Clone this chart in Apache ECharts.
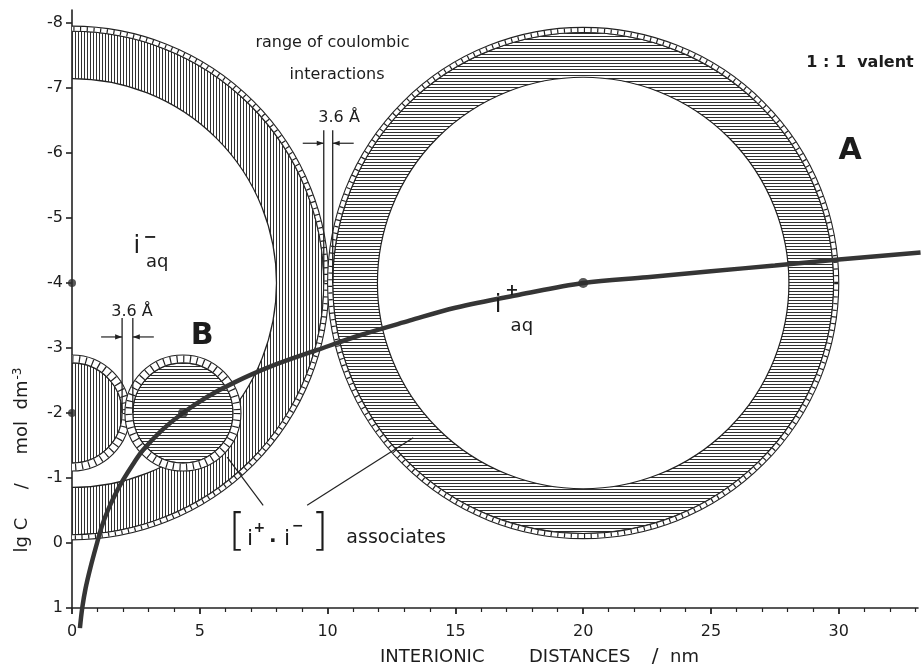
<!DOCTYPE html>
<html>
<head>
<meta charset="utf-8">
<title>Interionic distances vs concentration</title>
<script src="https://cdn.jsdelivr.net/npm/echarts/dist/echarts.min.js"></script>
<style>
  html, body { margin: 0; padding: 0; background: #fff; }
  #chart { width: 921px; height: 667px; }
</style>
</head>
<body>
<div id="chart"></div>
<script>
// ---- data -------------------------------------------------------------
// mean interionic distance (nm) versus lg C (mol dm^-3)
const curveDistance = [0.31, 0.40, 0.53, 0.72, 0.98, 1.17, 1.40, 1.68, 2.00, 2.40, 2.78, 3.50, 4.34,
                       5.30, 6.30, 7.80, 9.60, 11.30, 13.20, 15.00, 17.50, 20.00, 22.50, 25.00, 27.50, 30.00, 33.20];
const curveLgC      = [1.31, 1.00, 0.70, 0.38, 0.00, -0.26, -0.50, -0.74, -0.97, -1.22, -1.43, -1.73, -2.00,
                       -2.25, -2.46, -2.72, -2.97, -3.20, -3.42, -3.62, -3.82, -4.00, -4.09, -4.18, -4.27, -4.36, -4.47];

// marked states
const dotDistance = [0, 0, 4.34, 20];
const dotLgC      = [-4, -2, -2, -4];
const dotOnCurve  = [false, false, true, true];

// ion spheres: centre (nm, lg C) and radii (nm)
const ringNames   = ['coulombic range', 'i- aq', 'B', 'A'];
const ringX       = [0, 0, 4.34, 20];
const ringLgC     = [-4, -2, -2, -4];
const ringInnerR  = [8.00, 0, 0, 8.05];
const ringHatchR  = [9.85, 1.96, 1.96, 9.80];
const ringOuterR  = [10.05, 2.27, 2.27, 10.00];

// 3.6 Å gaps between hatched spheres (pairs of ring indices)
const gapRings    = [[0, 3], [1, 2]];
const gapTop      = [-6.35, -3.46];
const gapBottom   = [-4.00, -2.00];
const gapArrowLgC = [-6.15, -3.17];

// axis ticks
const xMajorTicks = [0, 5, 10, 15, 20, 25, 30];
const xMinorTicks = [1, 2, 3, 4, 6, 7, 8, 9, 11, 12, 13, 14, 16, 17, 18, 19, 21, 22, 23, 24, 26, 27, 28, 29, 31, 32, 33];
const yTicks      = [-8, -7, -6, -5, -4, -3, -2, -1, 0, 1];

// ---- styling ----------------------------------------------------------
const INK = '#222';
const FONT = 'DejaVu Sans';
const ringHatch = ['v', 'v', 'h', 'h'];

function hatchPattern(dir, step) {
  const c = document.createElement('canvas');
  c.width = dir === 'v' ? step : 8;
  c.height = dir === 'v' ? 8 : step;
  const g = c.getContext('2d');
  g.fillStyle = '#fff';
  g.fillRect(0, 0, c.width, c.height);
  g.fillStyle = '#303030';
  if (dir === 'v') g.fillRect(0, 0, 1, 8); else g.fillRect(0, 0, 8, 1);
  return { image: c, repeat: 'repeat' };
}
const patterns = { v: hatchPattern('v', 3), h: hatchPattern('h', 3) };

// text annotations, placed in data coordinates
const notes = [
  { t: 'range of coulombic', x: 10.19, y: -7.69, s: 16 },
  { t: 'interactions',       x: 10.37, y: -7.20, s: 16 },
  { t: '1 : 1  valent',      x: 30.83, y: -7.38, s: 16, w: 'bold' },
  { t: 'A',                  x: 30.44, y: -6.03, s: 30, w: 'bold' },
  { t: 'B',                  x: 5.09,  y: -3.18, s: 30, w: 'bold' },
  { t: '3.6 Å',              x: 10.45, y: -6.54, s: 16 },
  { t: '3.6 Å',              x: 2.35,  y: -3.55, s: 16 },
  { t: 'i',                  x: 2.54,  y: -4.55, s: 24 },
  { t: '−',                  x: 3.05,  y: -4.69, s: 16, w: 'bold' },
  { t: 'aq',                 x: 3.33,  y: -4.32, s: 18 },
  { t: 'i',                  x: 16.67, y: -3.65, s: 24 },
  { t: '+',                  x: 17.21, y: -3.88, s: 16, w: 'bold' },
  { t: 'aq',                 x: 17.60, y: -3.34, s: 18 },
  { t: '[',                  x: 6.46,  y: -0.14, s: 44, w: 'lighter' },
  { t: 'i',                  x: 6.97,  y: -0.05, s: 22 },
  { t: '+',                  x: 7.33,  y: -0.22, s: 14, w: 'bold' },
  { t: '·',                  x: 7.86,  y: -0.02, s: 20, w: 'bold' },
  { t: 'i',                  x: 8.41,  y: -0.05, s: 22 },
  { t: '−',                  x: 8.84,  y: -0.25, s: 14, w: 'bold' },
  { t: ']',                  x: 9.70,  y: -0.14, s: 44, w: 'lighter' },
  { t: 'associates',         x: 12.68, y: -0.08, s: 19 }
];

// leader lines of the "associates" label
const leaders = [
  [[6.07, -1.32], [7.48, -0.58]],
  [[9.20, -0.58], [13.35, -1.62]]
];

// ---- renderers --------------------------------------------------------
function renderRing(params, api) {
  const i = params.dataIndex;
  const c = api.coord([ringX[i], ringLgC[i]]);
  const px = v => api.size([v, 0])[0];
  const r0 = px(ringInnerR[i]), r1 = px(ringHatchR[i]), r2 = px(ringOuterR[i]);
  const body = r0 > 0
    ? { type: 'ring', shape: { cx: c[0], cy: c[1], r: r1, r0: r0 } }
    : { type: 'circle', shape: { cx: c[0], cy: c[1], r: r1 } };
  body.style = { fill: patterns[ringHatch[i]], stroke: INK, lineWidth: 1.2 };
  return {
    type: 'group',
    children: [
      body,
      { type: 'ring', shape: { cx: c[0], cy: c[1], r: r2, r0: r1 },
        style: { fill: '#fff', stroke: INK, lineWidth: 1.1 } },
      { type: 'circle', shape: { cx: c[0], cy: c[1], r: (r1 + r2) / 2 },
        style: { fill: null, stroke: INK, lineWidth: Math.max(1, r2 - r1 - 1), lineDash: [1.2, 5.5] } }
    ]
  };
}

function arrowTo(tip, dir, y) {
  // short dimension arrow ending at tip, coming from side dir (-1 left, +1 right)
  const tail = tip + dir * 21;
  return [
    { type: 'line', shape: { x1: tail, y1: y, x2: tip, y2: y }, style: { stroke: INK, lineWidth: 1.2 } },
    { type: 'polygon', shape: { points: [[tip, y], [tip + dir * 7, y - 2.6], [tip + dir * 7, y + 2.6]] },
      style: { fill: INK } }
  ];
}

function renderGap(params, api) {
  const k = params.dataIndex;
  const a = gapRings[k][0], b = gapRings[k][1];
  const xl = ringX[a] + ringHatchR[a];
  const xr = ringX[b] - ringHatchR[b];
  const lt = api.coord([xl, gapTop[k]]), lb = api.coord([xl, gapBottom[k]]);
  const rt = api.coord([xr, gapTop[k]]), rb = api.coord([xr, gapBottom[k]]);
  const ya = api.coord([xl, gapArrowLgC[k]])[1];
  return {
    type: 'group',
    children: [
      { type: 'line', shape: { x1: lt[0], y1: lt[1], x2: lb[0], y2: lb[1] }, style: { stroke: INK, lineWidth: 1.3 } },
      { type: 'line', shape: { x1: rt[0], y1: rt[1], x2: rb[0], y2: rb[1] }, style: { stroke: INK, lineWidth: 1.3 } }
    ].concat(arrowTo(lt[0], -1, ya), arrowTo(rt[0], 1, ya))
  };
}

function renderNote(params, api) {
  const n = notes[params.dataIndex];
  const p = api.coord([n.x, n.y]);
  return {
    type: 'text', x: p[0], y: p[1],
    style: { text: n.t, fontSize: n.s, fontFamily: FONT, fontWeight: n.w || 'normal',
             fill: '#1c1c1c', align: 'center', verticalAlign: 'middle' }
  };
}

function renderLeader(params, api) {
  const seg = leaders[params.dataIndex];
  const p0 = api.coord(seg[0]), p1 = api.coord(seg[1]);
  return { type: 'line', shape: { x1: p0[0], y1: p0[1], x2: p1[0], y2: p1[1] },
           style: { stroke: INK, lineWidth: 1.2 } };
}

// ---- chart ------------------------------------------------------------
const chart = echarts.init(document.getElementById('chart'), null, { renderer: 'canvas' });

const axisText = { fontSize: 16, fontFamily: FONT, color: '#1c1c1c' };

chart.setOption({
  animation: false,
  backgroundColor: '#fff',
  grid: { left: 72, right: 3, top: 10, bottom: 59 },
  xAxis: [{
    type: 'value', min: 0, max: 33.1, position: 'bottom',
    axisLine: { onZero: false, lineStyle: { color: INK, width: 1.6 } },
    axisTick: { customValues: xMajorTicks, length: 6, lineStyle: { color: INK, width: 1.8 } },
    axisLabel: Object.assign({ customValues: xMajorTicks, margin: 16 }, axisText),
    splitLine: { show: false }
  }, {
    type: 'value', min: 0, max: 33.1, position: 'bottom',
    axisLine: { show: false, onZero: false },
    axisTick: { customValues: xMinorTicks, length: 4, lineStyle: { color: INK, width: 1.2 } },
    axisLabel: { show: false },
    splitLine: { show: false }
  }],
  yAxis: {
    type: 'value', inverse: true, min: -8.2, max: 1,
    axisLine: { onZero: false, lineStyle: { color: INK, width: 1.6 } },
    axisTick: { customValues: yTicks, length: 6, lineStyle: { color: INK, width: 1.6 } },
    axisLabel: Object.assign({ customValues: yTicks, margin: 9 }, axisText),
    splitLine: { show: false }
  },
  graphic: [
    { type: 'text', x: 380, y: 657, style: { text: 'INTERIONIC', fontSize: 18, fontFamily: FONT, fill: '#1c1c1c', verticalAlign: 'middle' } },
    { type: 'text', x: 529, y: 657, style: { text: 'DISTANCES', fontSize: 18, fontFamily: FONT, fill: '#1c1c1c', verticalAlign: 'middle' } },
    { type: 'text', x: 655, y: 657, style: { text: '/', fontSize: 20, fontFamily: FONT, fill: '#1c1c1c', align: 'center', verticalAlign: 'middle' } },
    { type: 'text', x: 670, y: 657, style: { text: 'nm', fontSize: 18, fontFamily: FONT, fill: '#1c1c1c', verticalAlign: 'middle' } },
    { type: 'text', x: 22, y: 460, rotation: Math.PI / 2,
      style: { text: 'lg C     /     mol  dm{sup|-3}', fontSize: 18, fontFamily: FONT, fill: '#1c1c1c',
               align: 'center', verticalAlign: 'middle',
               rich: { sup: { fontSize: 12, fontFamily: FONT, verticalAlign: 'top', padding: [0, 0, 8, 1] } } } }
  ],
  series: [
    { type: 'custom', name: 'spheres', renderItem: renderRing, clip: true, z: 1,
      data: ringNames.map((_, i) => [ringX[i], ringLgC[i]]) },
    { type: 'custom', name: 'gaps', renderItem: renderGap, clip: false, z: 2,
      data: gapRings.map((_, k) => [ringX[gapRings[k][0]], gapArrowLgC[k]]) },
    { type: 'custom', name: 'leaders', renderItem: renderLeader, clip: false, z: 2,
      data: leaders.map(s => s[0]) },
    { type: 'line', name: 'interionic distance', smooth: 0.35, showSymbol: false, clip: false, z: 3,
      lineStyle: { color: '#353535', width: 4.5 },
      data: curveDistance.map((d, i) => [d, curveLgC[i]]) },
    { type: 'scatter', name: 'states', clip: false, z: 4,
      symbolSize: (v, p) => dotOnCurve[p.dataIndex] ? 10 : 8,
      itemStyle: { color: '#2e2e2e' },
      data: dotDistance.map((d, i) => [d, dotLgC[i]]) },
    { type: 'custom', name: 'notes', renderItem: renderNote, clip: false, z: 5,
      data: notes.map(n => [n.x, n.y]) }
  ]
});
</script>
</body>
</html>
